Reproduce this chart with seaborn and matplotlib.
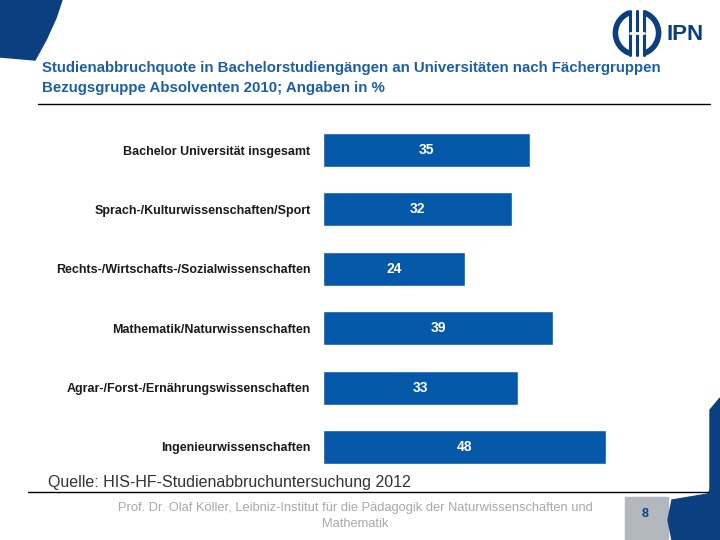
import matplotlib
matplotlib.use("Agg")
import matplotlib.pyplot as plt
import matplotlib.patches as mpatches
import pandas as pd
import seaborn as sns

# ============================================================
# DATA
# ============================================================
categories = [
    "Bachelor Universität insgesamt",
    "Sprach-/Kulturwissenschaften/Sport",
    "Rechts-/Wirtschafts-/Sozialwissenschaften",
    "Mathematik/Naturwissenschaften",
    "Agrar-/Forst-/Ernährungswissenschaften",
    "Ingenieurwissenschaften",
]
dropout_rates = [35, 32, 24, 39, 33, 48]

title_lines = [
    "Studienabbruchquote in Bachelorstudiengängen an Universitäten nach Fächergruppen",
    "Bezugsgruppe Absolventen 2010; Angaben in %",
]
source_text = "Quelle: HIS-HF-Studienabbruchuntersuchung 2012"
footer_text = ("Prof. Dr. Olaf Köller, Leibniz-Institut für die Pädagogik der Naturwissenschaften und\n"
               "Mathematik")
page_number = "8"

# ============================================================
# STYLE
# ============================================================
sns.set_theme(style="white")
plt.rcParams['font.family'] = ['Liberation Sans', 'DejaVu Sans']

BAR_BLUE = '#0658a8'
TITLE_BLUE = '#1c5ea6'
DARK_BLUE = '#0b3f7f'

df = pd.DataFrame({"category": categories, "rate": dropout_rates})

fig = plt.figure(figsize=(7.2, 5.4), dpi=100)
ax = fig.add_axes([323 / 720, 1 - 476.7 / 540, 295 / 720, 356.4 / 540])

sns.barplot(data=df, x="rate", y="category", color=BAR_BLUE, saturation=1,
            width=0.57, ax=ax, orient="h")
ax.set_xlim(0, 50)
ax.set_xlabel("")
ax.set_ylabel("")
ax.set_xticks([])
ax.tick_params(axis='y', length=0, pad=9)
for lbl in ax.get_yticklabels():
    lbl.set_fontsize(9)
    lbl.set_fontweight('bold')
    lbl.set_color('#1a1a1a')
sns.despine(ax=ax, left=True, bottom=True)

# value labels centered inside the bars
for i, v in enumerate(dropout_rates):
    ax.text(v / 2, i, str(v), ha='center', va='center', color='white',
            fontsize=10, fontweight='bold')

# ============================================================
# SLIDE DECORATION
# ============================================================
W, H = 720, 540


def px(x, y):
    return (x / W, 1 - y / H)


# title
fig.text(*px(42, 68), title_lines[0], color=TITLE_BLUE, fontsize=10.8,
         fontweight='bold', va='center', ha='left')
fig.text(*px(42, 88), title_lines[1], color=TITLE_BLUE, fontsize=10.8,
         fontweight='bold', va='center', ha='left')
fig.add_artist(plt.Line2D([38 / W, 710 / W], [1 - 104 / H] * 2, color='black', lw=1))

# source + footer line
fig.text(*px(48, 482), source_text, color='#333333', fontsize=11.5, va='center', ha='left')
fig.add_artist(plt.Line2D([28 / W, 708 / W], [1 - 492 / H] * 2, color='black', lw=1))
fig.text(*px(355, 516), footer_text, color='#a8a8a8', fontsize=9.3,
         va='center', ha='center', linespacing=1.35)

# page number box
fig.patches.append(mpatches.Rectangle(px(625, 540), 43 / W, 43 / H, color='#b3b7be',
                                      transform=fig.transFigure, figure=fig))
fig.text(*px(645, 514), page_number, color=DARK_BLUE, fontsize=9, fontweight='bold',
         ha='center', va='center')

# blue corner shapes
top_left = [px(0, 0), px(62, 0), px(56, 18), px(46, 40), px(35, 60), px(0, 57)]
fig.patches.append(mpatches.Polygon(top_left, closed=True, color=DARK_BLUE,
                                    transform=fig.transFigure, figure=fig))
bottom_right = [px(672, 540), px(668, 520), px(672, 500), px(708, 494),
                px(720, 470), px(720, 540)]
fig.patches.append(mpatches.Polygon(bottom_right, closed=True, color=DARK_BLUE,
                                    transform=fig.transFigure, figure=fig))
right_edge = [px(710, 492), px(710, 410), px(720, 398), px(720, 470)]
fig.patches.append(mpatches.Polygon(right_edge, closed=True, color=DARK_BLUE,
                                    transform=fig.transFigure, figure=fig))

# IPN logo
logo = fig.add_axes([612 / W, 1 - 58 / H, 50 / W, 50 / H])
logo.set_xlim(-1.1, 1.1)
logo.set_ylim(-1.1, 1.1)
logo.axis('off')
logo.add_patch(mpatches.Arc((0, 0), 1.9, 1.9, theta1=110, theta2=250, lw=4, color=DARK_BLUE))
logo.add_patch(mpatches.Arc((0, 0), 1.9, 1.9, theta1=-70, theta2=70, lw=4, color=DARK_BLUE))
for xb in (-0.3, 0.0, 0.3):
    logo.plot([xb, xb], [-0.95, 0.95], color=DARK_BLUE, lw=2.2)
logo.plot([-0.3, 0.3], [0, 0], color='white', lw=2)
fig.text(*px(666, 34), "IPN", color=DARK_BLUE, fontsize=16, fontweight='bold',
         ha='left', va='center')

fig.savefig("out.png", dpi=100)
